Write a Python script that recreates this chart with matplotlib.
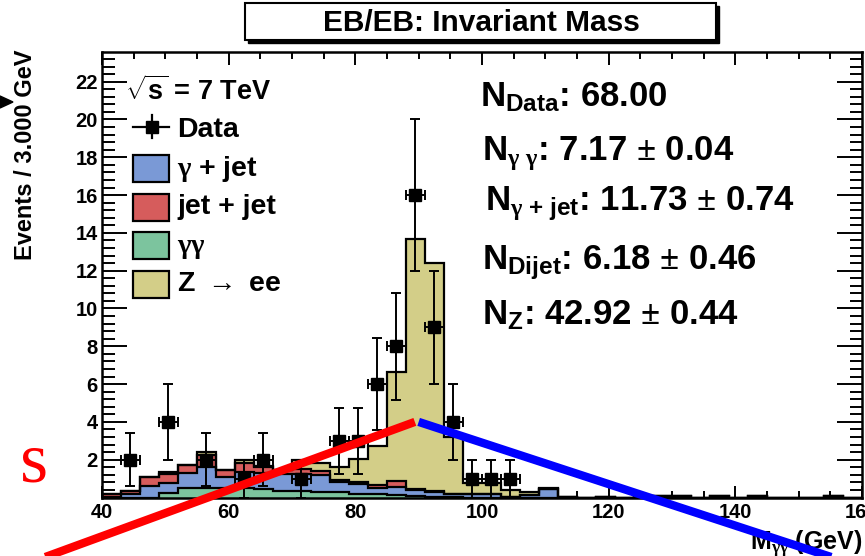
import numpy as np
import matplotlib
matplotlib.use("Agg")
import matplotlib.pyplot as plt
from matplotlib.patches import Rectangle
from matplotlib.ticker import MultipleLocator

plt.rcParams['font.family'] = ['Liberation Sans', 'DejaVu Sans']
plt.rcParams['font.weight'] = 'bold'
plt.rcParams['mathtext.fontset'] = 'custom'
plt.rcParams['mathtext.rm'] = 'Liberation Serif'
plt.rcParams['mathtext.it'] = 'Liberation Serif'
plt.rcParams['mathtext.bf'] = 'Liberation Sans:bold'
plt.rcParams['mathtext.sf'] = 'Liberation Sans:bold'

# 3 GeV bins from 40 to 160
edges = np.arange(40, 161, 3)

# stacked MC components, per bin
gamgam = [0, 0, 0, 0.25, 0.49, 0.49, 0.49, 0.49, 0.45, 0.35, 0.32, 0.3, 0.3, 0.2,
          0.2, 0.13, 0.1, 0.05, 0.03, 0, 0, 0, 0, 0, 0, 0, 0, 0, 0, 0,
          0, 0, 0, 0, 0, 0, 0, 0, 0, 0]
gamjet = [0.03, 0.2, 0.62, 0.5, 0.79, 1.14, 0.61, 0.88, 0.85, 0.9, 0.95, 0.9, 0.5, 0.5,
          0.29, 0.44, 0.3, 0.26, 0.15, 0.2, 0.2, 0.05, 0.15, 0.45, 0.05, 0, 0.05, 0, 0.08, 0.08,
          0.08, 0, 0.08, 0, 0.08, 0, 0, 0, 0.08, 0]
jetjet = [0.14, 0.17, 0.45, 0.48, 0.44, 0.6, 0.36, 0.44, 0.3, 0.2, 0.25, 0.2, 0.15, 0.1,
          0.17, 0.3, 0.03, 0.02, 0.02, 0, 0, 0, 0, 0, 0, 0, 0, 0, 0, 0,
          0, 0, 0, 0, 0, 0, 0, 0, 0, 0]
zee = [0, 0, 0, 0.13, 0, 0.16, 0, 0.17, 0.05, 0, 0.46, 0.4, 0.65, 1.25,
       2.04, 5.78, 13.27, 12.07, 3.0, 0.58, 0.58, 0.35, 0.15, 0.04, 0, 0, 0, 0, 0, 0,
       0, 0, 0, 0, 0, 0, 0, 0, 0, 0]

# data points
data_x = [44.5, 50.5, 56.5, 62.5, 65.5, 71.5, 77.5, 80.5, 83.5, 86.5, 89.5, 92.5,
          95.5, 98.5, 101.5, 104.5]
data_y = [2, 4, 2, 1, 2, 1, 3, 3, 6, 8, 16, 9, 4, 1, 1, 1]
data_err = [1.41, 2, 1.41, 1, 1.41, 1, 1.73, 1.73, 2.45, 2.83, 4, 3, 2, 1, 1, 1]

pm = r"$\ \mathrm{\pm}\ $"
fit_text = [r"N$_{\mathbf{Data}}$: 68.00",
            r"N$_{\mathrm{\gamma\ \gamma}}$: 7.17" + pm + "0.04",
            r"N$_{\mathrm{\gamma}\ \mathbf{+\ jet}}$: 11.73" + pm + "0.74",
            r"N$_{\mathbf{Dijet}}$: 6.18" + pm + "0.46",
            r"N$_{\mathbf{Z}}$: 42.92" + pm + "0.44"]

labels = [r"$\mathrm{\gamma}$ + jet", "jet + jet", r"$\mathrm{\gamma\gamma}$",
          r"Z$\ \mathrm{\rightarrow}\ $ee"]
colors = ["#7a99d6", "#d65c5c", "#7cc49e", "#d3ce88"]

# hand-drawn annotation strokes on top of the plot (data coords)
red_line = ([20, 89.4], [-4.5, 4.0])
blue_line = ([90.0, 162], [4.0, -3.9])

fig = plt.figure(figsize=(8.65, 5.56), dpi=100)
ax = fig.add_axes([0.1179, 0.1052, 0.8786, 0.8013])

g = np.array(gamgam)
b = g + np.array(gamjet)
r = b + np.array(jetjet)
z = r + np.array(zee)

# THStack style: draw cumulative histograms from the top down
for cum, col in [(z, colors[3]), (r, colors[1]), (b, colors[0]), (g, colors[2])]:
    ax.stairs(cum, edges, fill=True, color=col, zorder=2)
    ax.stairs(cum, edges, color="black", lw=1.6, baseline=0, zorder=3)

ax.errorbar(data_x, data_y, xerr=1.5, yerr=data_err, fmt="s", color="black",
            ms=8.5, capsize=3.5, elinewidth=1.4, capthick=1.4, zorder=5)

ax.set_xlim(40, 160)
ax.set_ylim(0, 23.57)
ax.xaxis.set_major_locator(MultipleLocator(20))
ax.xaxis.set_minor_locator(MultipleLocator(5))
ax.yaxis.set_major_locator(MultipleLocator(2))
ax.yaxis.set_minor_locator(MultipleLocator(0.4))
ax.set_yticks([2, 4, 6, 8, 10, 12, 14, 16, 18, 20, 22])
ax.tick_params(which="both", direction="in", top=True, right=True, width=1.4,
               labelsize=14.5)
ax.tick_params(axis="x", which="major", length=9, pad=4)
ax.tick_params(axis="x", which="minor", length=5)
ax.tick_params(axis="y", which="major", length=18, pad=3)
ax.tick_params(axis="y", which="minor", length=9)
for lab in ax.get_xticklabels() + ax.get_yticklabels():
    lab.set_fontweight("bold")
for s in ax.spines.values():
    s.set_linewidth(1.8)

ax.text(-0.100, 1.005, "Events / 3.000 GeV", transform=ax.transAxes, rotation=90,
        ha="center", va="top", fontsize=17, fontweight="bold")
ax.text(1.0, -0.118, r"M$_{\mathrm{\gamma\gamma}}$ (GeV)", transform=ax.transAxes,
        ha="right", va="baseline", fontsize=18, fontweight="bold", clip_on=False)

# fit results
fit_pos = [(0.497, 0.8765), (0.500, 0.7576), (0.504, 0.6453), (0.500, 0.5107),
           (0.500, 0.3872)]
for (tx, ty), t in zip(fit_pos, fit_text):
    ax.text(tx, ty, t, transform=ax.transAxes, fontsize=25, fontweight="bold",
            va="baseline", ha="left")

# legend, ROOT style
ax.text(0.030, 0.892, r"$\sqrt{\mathbf{s}}$ = 7 TeV", transform=ax.transAxes,
        fontsize=19.5, fontweight="bold", va="baseline")
ax.plot([0.0408, 0.0882], [0.8323, 0.8323], color="black", lw=1.6, transform=ax.transAxes)
ax.plot([0.0654, 0.0654], [0.806, 0.858], color="black", lw=1.6, transform=ax.transAxes)
ax.plot([0.0654], [0.8323], "s", color="black", ms=9, transform=ax.transAxes)
ax.text(0.0987, 0.809, "Data", transform=ax.transAxes, fontsize=20.5,
        fontweight="bold", va="baseline")
for i, (lab, col) in enumerate(zip(labels, colors)):
    y0 = 0.708 - i * 0.0866
    ax.add_patch(Rectangle((0.0408, y0), 0.0474, 0.0606, transform=ax.transAxes,
                           facecolor=col, edgecolor="black", lw=1.6, zorder=6))
    ax.text(0.0987, y0 + 0.0143, lab, transform=ax.transAxes, fontsize=20.5,
            fontweight="bold", va="baseline")

# annotation strokes
ax.plot(*red_line, color="#ff0000", lw=6, solid_capstyle="butt", clip_on=False, zorder=10)
ax.plot(*blue_line, color="#0000ff", lw=6, solid_capstyle="butt", clip_on=False, zorder=10)

# title box with shadow
fig.add_artist(Rectangle((248 / 865, 1 - 43 / 556), 471 / 865, 37 / 556,
                         transform=fig.transFigure, facecolor="black", edgecolor="black"))
fig.add_artist(Rectangle((245 / 865, 1 - 40 / 556), 471 / 865, 37 / 556,
                         transform=fig.transFigure, facecolor="white", edgecolor="black",
                         lw=1.5))
fig.text(481 / 865, 1 - 23 / 556, "EB/EB: Invariant Mass", ha="center", va="center",
         fontsize=21.5, fontweight="bold")

# stray bits of the surrounding slide
fig.text(48 / 865, 1 - 481 / 556, "s", color="red", family="Liberation Serif",
         fontsize=52, ha="right", va="baseline", fontweight="normal")
fig.add_artist(plt.Polygon([[0, 1 - 96 / 556], [13 / 865, 1 - 102 / 556], [0, 1 - 108 / 556]],
                           closed=True, transform=fig.transFigure, color="black"))

fig.savefig("out.png", dpi=100)
